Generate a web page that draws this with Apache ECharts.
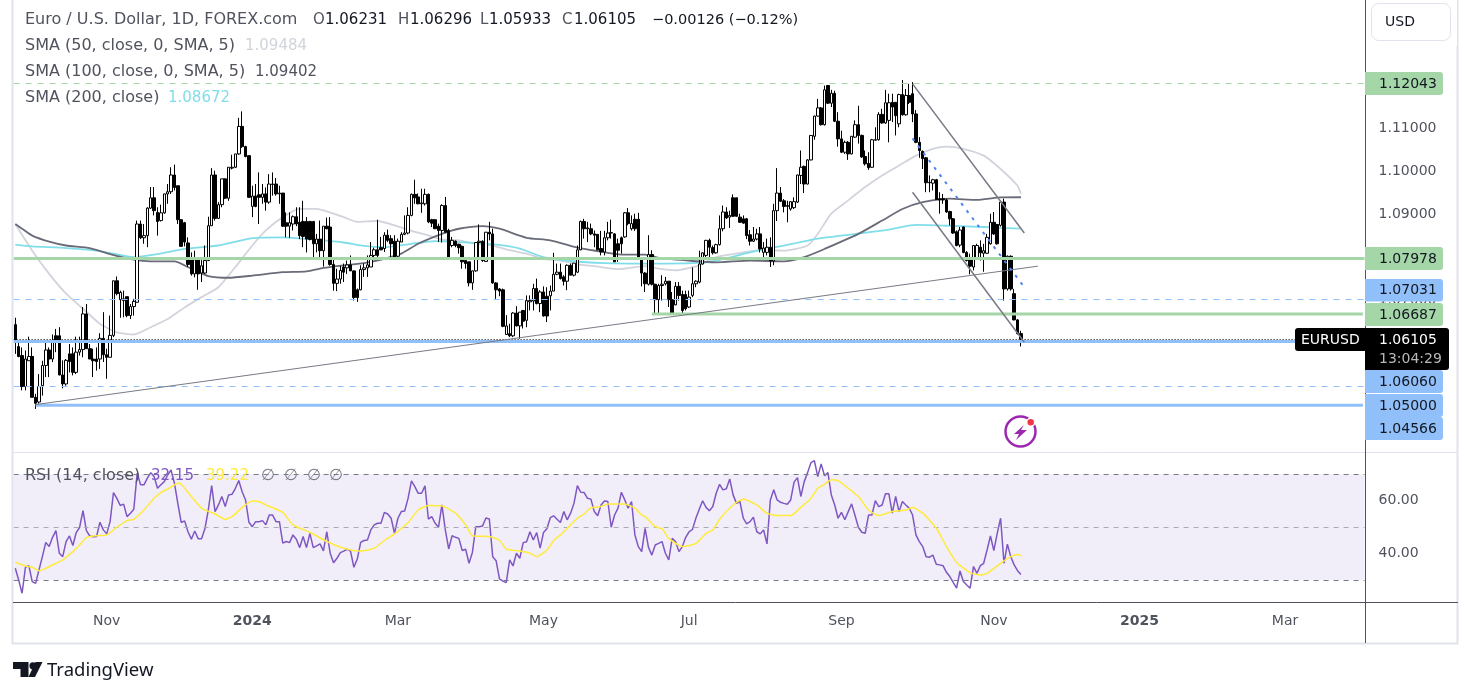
<!DOCTYPE html>
<html><head><meta charset="utf-8"><style>html,body{margin:0;padding:0;background:#fff}#c{width:1473px;height:697px}</style>
<script src="https://cdn.jsdelivr.net/npm/echarts@6/dist/echarts.min.js"></script></head><body><div id="c"></div>
<script>
const opens=[1.0644,1.0593,1.0572,1.0500,1.0560,1.0570,1.0475,1.0464,1.0502,1.0549,
1.0585,1.0564,1.0618,1.0618,1.0527,1.0506,1.0576,1.0576,1.0533,1.0580,
1.0586,1.0669,1.0588,1.0564,1.0564,1.0564,1.0612,1.0574,1.0568,1.0619,
1.0746,1.0702,1.0700,1.0709,1.0665,1.0686,1.0696,1.0878,1.0846,1.0851,
1.0915,1.0939,1.0905,1.0886,1.0904,1.0948,1.0953,1.0992,1.0967,1.0888,
1.0881,1.0834,1.0797,1.0762,1.0795,1.0764,1.0764,1.0793,1.0874,1.0992,
1.0891,1.0923,1.0983,1.0938,1.1008,1.1010,1.1041,1.1105,1.1058,1.1037,
1.0919,1.0943,1.0946,1.0940,1.0948,1.0929,1.0970,1.0971,1.0948,1.0950,
1.0881,1.0873,1.0878,1.0895,1.0882,1.0884,1.0884,1.0884,1.0884,1.0832,
1.0843,1.0816,1.0873,1.0871,1.0784,1.0740,1.0750,1.0778,1.0776,1.0783,
1.0769,1.0725,1.0725,1.0772,1.0776,1.0778,1.0805,1.0818,1.0823,1.0821,
1.0852,1.0844,1.0838,1.0803,1.0836,1.0854,1.0857,1.0898,1.0947,1.0941,
1.0925,1.0925,1.0947,1.0888,1.0888,1.0873,1.0863,1.0921,1.0863,1.0828,
1.0838,1.0831,1.0826,1.0793,1.0790,1.0741,1.0769,1.0835,1.0838,1.0791,
1.0859,1.0855,1.0741,1.0727,1.0725,1.0621,1.0623,1.0618,1.0671,1.0641,
1.0677,1.0654,1.0697,1.0699,1.0728,1.0693,1.0720,1.0710,1.0711,1.0722,
1.0761,1.0766,1.0755,1.0745,1.0782,1.0759,1.0766,1.0818,1.0884,1.0869,
1.0867,1.0855,1.0854,1.0821,1.0813,1.0846,1.0857,1.0855,1.0832,1.0846,
1.0848,1.0904,1.0867,1.0889,1.0889,1.0797,1.0764,1.0738,1.0807,1.0738,
1.0702,1.0735,1.0739,1.0745,1.0702,1.0690,1.0733,1.0714,1.0714,1.0685,
1.0712,1.0739,1.0743,1.0785,1.0805,1.0840,1.0823,1.0811,1.0830,1.0867,
1.0906,1.0894,1.0939,1.0939,1.0894,1.0890,1.0890,1.0853,1.0838,1.0843,
1.0855,1.0812,1.0812,1.0824,1.0792,1.0909,1.0950,1.0932,1.0919,1.0913,
1.0916,1.0929,1.0991,1.1012,1.0971,1.1027,1.1082,1.1129,1.1148,1.1109,
1.1200,1.1159,1.1182,1.1117,1.1076,1.1045,1.1068,1.1041,1.1080,1.1109,
1.1084,1.1035,1.1019,1.1010,1.1073,1.1074,1.1133,1.1113,1.1119,1.1161,
1.1161,1.1111,1.1179,1.1132,1.1177,1.1181,1.1134,1.1068,1.1047,1.1032,
1.0975,1.0973,1.0981,1.0937,1.0937,1.0934,1.0907,1.0890,1.0860,1.0829,
1.0871,1.0812,1.0795,1.0778,1.0797,1.0824,1.0810,1.0810,1.0832,1.0882,
1.0877,1.0875,1.0929,1.0727,1.0803,1.0716,1.0655,1.06231];
const highs=[1.0660,1.0607,1.0591,1.0584,1.0616,1.0591,1.0483,1.0529,1.0560,1.0607,
1.0591,1.0621,1.0634,1.0638,1.0561,1.0564,1.0599,1.0591,1.0616,1.0616,
1.0685,1.0692,1.0599,1.0588,1.0591,1.0624,1.0673,1.0588,1.0665,1.0746,
1.0756,1.0723,1.0723,1.0709,1.0692,1.0704,1.0886,1.0886,1.0878,1.0917,
1.0964,1.0964,1.0917,1.0923,1.0948,1.0971,1.1010,1.1016,1.0967,1.0889,
1.0883,1.0847,1.0812,1.0816,1.0795,1.0795,1.0828,1.0895,1.1008,1.1002,
1.0929,1.0983,1.0983,1.1010,1.1039,1.1041,1.1125,1.1140,1.1060,1.1037,
1.0967,1.0971,1.0998,1.0971,1.0963,1.0994,1.0998,1.0985,1.0967,1.0950,
1.0905,1.0905,1.0898,1.0917,1.0917,1.0932,1.0894,1.0884,1.0884,1.0855,
1.0886,1.0873,1.0893,1.0894,1.0797,1.0774,1.0781,1.0786,1.0793,1.0805,
1.0770,1.0728,1.0782,1.0786,1.0805,1.0836,1.0823,1.0888,1.0848,1.0859,
1.0865,1.0852,1.0852,1.0844,1.0859,1.0898,1.0917,1.0949,1.0981,1.0949,
1.0960,1.0960,1.0949,1.0890,1.0888,1.0879,1.0924,1.0941,1.0867,1.0848,
1.0840,1.0832,1.0828,1.0801,1.0790,1.0770,1.0836,1.0877,1.0840,1.0859,
1.0883,1.0867,1.0743,1.0729,1.0728,1.0666,1.0646,1.0673,1.0687,1.0673,
1.0677,1.0712,1.0712,1.0739,1.0751,1.0724,1.0733,1.0731,1.0735,1.0811,
1.0786,1.0786,1.0759,1.0784,1.0786,1.0787,1.0828,1.0886,1.0890,1.0883,
1.0879,1.0863,1.0854,1.0862,1.0862,1.0883,1.0888,1.0857,1.0844,1.0849,
1.0906,1.0915,1.0898,1.0902,1.0904,1.0797,1.0766,1.0852,1.0817,1.0739,
1.0739,1.0759,1.0755,1.0745,1.0720,1.0743,1.0743,1.0723,1.0723,1.0723,
1.0777,1.0747,1.0816,1.0812,1.0841,1.0844,1.0828,1.0832,1.0898,1.0921,
1.0917,1.0909,1.0947,1.0939,1.0902,1.0898,1.0892,1.0864,1.0871,1.0867,
1.0871,1.0836,1.0844,1.0847,1.0925,1.1008,1.0964,1.0936,1.0932,1.0931,
1.0940,1.0993,1.1049,1.1014,1.1029,1.1085,1.1130,1.1169,1.1150,1.1200,
1.1200,1.1190,1.1188,1.1138,1.1095,1.1072,1.1071,1.1082,1.1119,1.1153,
1.1086,1.1049,1.1045,1.1076,1.1103,1.1138,1.1146,1.1190,1.1181,1.1181,
1.1161,1.1181,1.1213,1.1192,1.1204,1.1208,1.1143,1.1080,1.1049,1.1034,
1.0991,1.0983,1.0983,1.0952,1.0948,1.0937,1.0909,1.0892,1.0863,1.0871,
1.0872,1.0815,1.0809,1.0828,1.0832,1.0840,1.0832,1.0855,1.0902,1.0906,
1.0877,1.0933,1.0937,1.0805,1.0805,1.0727,1.0657,1.06296];
const lows=[1.0576,1.0568,1.0491,1.0491,1.0560,1.0475,1.0448,1.0460,1.0479,1.0522,
1.0522,1.0557,1.0580,1.0526,1.0496,1.0502,1.0533,1.0526,1.0529,1.0572,
1.0568,1.0588,1.0564,1.0522,1.0537,1.0541,1.0557,1.0518,1.0568,1.0615,
1.0712,1.0660,1.0661,1.0661,1.0657,1.0665,1.0696,1.0843,1.0832,1.0824,
1.0913,1.0898,1.0851,1.0884,1.0902,1.0925,1.0948,1.0956,1.0878,1.0826,
1.0826,1.0778,1.0758,1.0754,1.0725,1.0743,1.0762,1.0793,1.0874,1.0886,
1.0890,1.0917,1.0936,1.0932,1.1005,1.1008,1.1039,1.1055,1.1033,1.0939,
1.0894,1.0917,1.0878,1.0925,1.0909,1.0925,1.0944,1.0944,1.0925,1.0871,
1.0847,1.0846,1.0863,1.0873,1.0843,1.0824,1.0812,1.0840,1.0801,1.0812,
1.0801,1.0779,1.0866,1.0781,1.0723,1.0722,1.0739,1.0743,1.0762,1.0769,
1.0700,1.0697,1.0724,1.0755,1.0755,1.0778,1.0801,1.0801,1.0817,1.0813,
1.0836,1.0801,1.0801,1.0801,1.0836,1.0852,1.0854,1.0896,1.0925,1.0924,
1.0904,1.0921,1.0880,1.0871,1.0867,1.0836,1.0835,1.0857,1.0800,1.0824,
1.0824,1.0809,1.0774,1.0774,1.0733,1.0725,1.0767,1.0797,1.0790,1.0790,
1.0840,1.0739,1.0704,1.0710,1.0638,1.0621,1.0615,1.0615,1.0640,1.0611,
1.0635,1.0638,1.0677,1.0677,1.0691,1.0673,1.0663,1.0650,1.0677,1.0722,
1.0759,1.0749,1.0735,1.0724,1.0759,1.0756,1.0764,1.0817,1.0844,1.0836,
1.0852,1.0824,1.0817,1.0805,1.0805,1.0840,1.0844,1.0790,1.0790,1.0809,
1.0846,1.0875,1.0863,1.0862,1.0797,1.0733,1.0720,1.0735,1.0735,1.0669,
1.0669,1.0700,1.0735,1.0685,1.0669,1.0689,1.0700,1.0671,1.0677,1.0683,
1.0708,1.0731,1.0740,1.0784,1.0801,1.0801,1.0807,1.0809,1.0828,1.0861,
1.0890,1.0869,1.0895,1.0895,1.0881,1.0879,1.0843,1.0828,1.0836,1.0840,
1.0812,1.0801,1.0805,1.0778,1.0782,1.0885,1.0929,1.0905,1.0882,1.0909,
1.0913,1.0927,1.0971,1.0950,1.0970,1.1026,1.1074,1.1128,1.1107,1.1107,
1.1157,1.1150,1.1115,1.1058,1.1043,1.1041,1.1027,1.1040,1.1078,1.1065,
1.1032,1.1014,1.1004,1.1009,1.1072,1.1072,1.1111,1.1111,1.1068,1.1115,
1.1084,1.1103,1.1130,1.1130,1.1157,1.1115,1.1066,1.1032,1.1006,1.0952,
1.0952,1.0956,1.0935,1.0902,1.0925,1.0904,1.0875,1.0855,1.0826,1.0824,
1.0810,1.0791,1.0761,1.0770,1.0795,1.0793,1.0767,1.0809,1.0830,1.0853,
1.0830,1.0872,1.0700,1.0723,1.0723,1.0654,1.0621,1.05933];
const closes=[1.0607,1.0570,1.0500,1.0564,1.0570,1.0475,1.0461,1.0500,1.0549,1.0585,
1.0564,1.0607,1.0607,1.0527,1.0506,1.0561,1.0558,1.0533,1.0580,1.0586,
1.0669,1.0588,1.0564,1.0560,1.0558,1.0612,1.0574,1.0568,1.0619,1.0746,
1.0716,1.0719,1.0704,1.0665,1.0686,1.0698,1.0878,1.0846,1.0851,1.0915,
1.0939,1.0909,1.0884,1.0904,1.0948,1.0953,1.0992,1.0963,1.0888,1.0826,
1.0836,1.0784,1.0762,1.0795,1.0762,1.0781,1.0793,1.0874,1.0992,1.0891,
1.0923,1.0983,1.0938,1.1010,1.1010,1.1041,1.1105,1.1058,1.1035,1.0940,
1.0943,1.0919,1.0940,1.0948,1.0929,1.0971,1.0971,1.0948,1.0950,1.0873,
1.0873,1.0881,1.0895,1.0878,1.0851,1.0849,1.0843,1.0842,1.0832,1.0843,
1.0816,1.0873,1.0867,1.0784,1.0740,1.0750,1.0770,1.0766,1.0783,1.0769,
1.0707,1.0707,1.0772,1.0776,1.0783,1.0805,1.0818,1.0805,1.0818,1.0852,
1.0840,1.0832,1.0801,1.0838,1.0854,1.0857,1.0898,1.0947,1.0939,1.0925,
1.0927,1.0947,1.0883,1.0880,1.0867,1.0863,1.0921,1.0859,1.0801,1.0840,
1.0828,1.0823,1.0790,1.0786,1.0741,1.0769,1.0835,1.0838,1.0793,1.0859,
1.0855,1.0741,1.0725,1.0722,1.0640,1.0641,1.0618,1.0671,1.0641,1.0673,
1.0652,1.0700,1.0700,1.0728,1.0693,1.0720,1.0664,1.0664,1.0722,1.0761,
1.0766,1.0751,1.0745,1.0782,1.0759,1.0787,1.0818,1.0884,1.0867,1.0867,
1.0855,1.0852,1.0818,1.0813,1.0846,1.0857,1.0858,1.0790,1.0817,1.0832,
1.0904,1.0879,1.0879,1.0867,1.0801,1.0764,1.0739,1.0807,1.0738,1.0702,
1.0735,1.0738,1.0745,1.0702,1.0669,1.0733,1.0712,1.0677,1.0681,1.0708,
1.0739,1.0745,1.0785,1.0811,1.0840,1.0824,1.0811,1.0830,1.0867,1.0906,
1.0892,1.0898,1.0896,1.0896,1.0882,1.0880,1.0851,1.0838,1.0843,1.0855,
1.0820,1.0822,1.0824,1.0792,1.0909,1.0950,1.0931,1.0919,1.0921,1.0930,
1.0930,1.0992,1.1010,1.0971,1.1027,1.1084,1.1129,1.1148,1.1109,1.1190,
1.1159,1.1182,1.1117,1.1076,1.1045,1.1068,1.1041,1.1082,1.1109,1.1084,
1.1034,1.1018,1.1009,1.1074,1.1074,1.1133,1.1113,1.1160,1.1160,1.1150,
1.1130,1.1179,1.1132,1.1177,1.1161,1.1134,1.1068,1.1049,1.1030,1.0974,
1.0974,1.0981,1.0935,1.0934,1.0934,1.0906,1.0890,1.0857,1.0828,1.0864,
1.0812,1.0793,1.0780,1.0828,1.0828,1.0811,1.0816,1.0847,1.0882,1.0855,
1.0832,1.0929,1.0727,1.0803,1.0727,1.0655,1.0623,1.06105];
const sma50=[[0,1.0878],[5,1.0816],[10,1.0762],[15,1.0716],[20,1.0681],[25,1.0646],[30,1.0626],[35,1.0621],[40,1.0638],[45,1.0657],[50,1.0684],[55,1.0708],[60,1.0731],[65,1.0778],[70,1.0828],[74,1.0863],[79,1.0894],[84,1.0913],[89,1.0913],[94,1.0902],[97,1.0894],[101,1.0883],[107,1.0885],[112,1.0875],[117,1.0862],[121,1.0854],[126,1.0842],[131,1.0840],[136,1.0832],[141,1.0828],[146,1.0817],[151,1.0809],[156,1.0797],[161,1.0793],[166,1.0784],[171,1.0780],[178,1.0773],[186,1.0780],[190,1.0774],[195,1.0770],[202,1.0782],[207,1.0801],[215,1.0812],[221,1.0818],[227,1.0816],[234,1.0828],[237,1.0855],[241,1.0902],[246,1.0933],[251,1.0964],[256,1.0991],[261,1.1014],[266,1.1037],[271,1.1053],[275,1.1058],[280,1.1053],[286,1.1037],[291,1.1006],[296,1.0967],[297,1.09484]];
const sma100=[[0,1.0878],[2,1.0867],[5,1.0851],[10,1.0837],[15,1.0828],[22,1.0822],[28,1.0808],[35,1.0795],[40,1.0791],[47,1.0791],[52,1.0774],[57,1.0757],[63,1.0753],[70,1.0758],[79,1.0766],[86,1.0768],[91,1.0776],[97,1.0782],[103,1.0787],[109,1.0797],[114,1.0809],[119,1.0832],[126,1.0855],[131,1.0867],[138,1.0873],[143,1.0867],[151,1.0846],[158,1.0840],[166,1.0823],[172,1.0815],[179,1.0807],[186,1.0807],[190,1.0799],[200,1.0792],[207,1.0789],[217,1.0793],[227,1.0791],[233,1.0801],[239,1.0820],[249,1.0855],[256,1.0886],[262,1.0913],[268,1.0929],[276,1.0937],[284,1.0934],[291,1.0940],[297,1.09402]];
const sma200=[[0,1.0830],[5,1.0826],[15,1.0822],[25,1.0815],[35,1.0801],[42,1.0808],[50,1.0820],[60,1.0828],[70,1.0845],[79,1.0847],[89,1.0841],[97,1.0835],[103,1.0827],[109,1.0824],[117,1.0832],[124,1.0838],[131,1.0836],[141,1.0831],[149,1.0821],[156,1.0801],[164,1.0792],[174,1.0787],[186,1.0786],[200,1.0787],[207,1.0793],[217,1.0812],[227,1.0828],[237,1.0844],[247,1.0854],[257,1.0864],[266,1.0876],[276,1.0874],[286,1.0871],[297,1.08672]];
const rsi=[34.5,30.1,25.1,34.9,35.5,29.5,28.8,33.9,38.9,44.3,42.7,46.2,48.7,40.2,38.9,44.6,46.7,43.1,48,50,
56.3,48.7,46.7,46.4,46.5,51.9,49,47.5,52.1,63.1,60.9,58.2,58.7,54,55.3,56.8,70.4,66,66,68.5,
70.6,69.1,64.7,66,67.2,69.7,71.6,66.6,59,51.8,52.4,48.3,45.5,48.6,45.7,45.7,49.4,56.5,65.7,55.9,
58.4,61.6,57.8,62.2,62.4,64.7,67.6,63.4,60.3,51.9,50.2,52.1,52.1,52.5,50.9,54.6,54.6,52.1,52.1,44,
44.6,44.2,47.1,45.5,42.3,46.5,42.3,47.7,42.3,43,43.7,41.1,48.3,40.2,36.6,38.3,40.4,41,41.7,41,
34.9,38,44.3,45,45.2,49,50.9,51.5,51.5,55.6,55,53.4,47.7,53.4,55.9,56.1,60.9,67.5,65.3,62.8,
62.8,65.6,53.1,54,51.5,50,58.4,49,41.8,46.8,46.2,45.8,41.2,41.7,36.4,40.5,50.2,50.2,50.5,53.5,
53.1,38.9,37.4,30.5,29.7,29.1,37.7,35.4,40.2,38.3,44.2,44.5,48.3,45.2,48,42.1,48,49.4,53.6,54.3,
53,51.8,55.9,52.8,55.3,59,65.7,63.2,63.1,60.9,60.6,55.9,54.3,58.4,59.9,59.7,50,54.6,57.2,63.2,
60.3,57.2,59.7,47.1,42.7,40.8,49.6,42.4,39.5,43.3,43.9,44.6,40.2,37.7,45.8,44.6,40.8,42.7,46.2,48.3,
49.2,53.4,56.8,60,57.5,56.2,57.8,62.8,66.2,64.1,64.5,68.2,62.2,59,59.7,53.4,51.3,52.1,53.8,48.3,
47.5,49,43.7,60.3,64.1,60.3,59.4,59,58.7,60.3,67,68.7,61.6,67.2,70.6,74.4,75.1,69.1,73.9,69.4,
70.6,62.2,58.4,53.4,55.6,52.8,55.9,58.8,54.4,50,48.1,47.7,54.6,54.6,60,57.8,58.4,62.6,62.6,55.3,
61.6,55.9,59.7,58.4,57.2,54.6,47.1,44.6,42.7,38.9,38.7,39.5,36,35.8,35.5,33,31.4,29.2,27,33.5,
29.5,28.2,27,35.2,32.6,35.5,36.4,41.4,46.7,41.2,47.7,53.4,36.4,43.6,38.9,35.8,33.6,32.15];
const rsiMa=[[0,36.8],[3,35.4],[5,34.9],[7,33.6],[9,34.5],[12,36.4],[14,37.7],[17,40.8],[19,43.3],[21,46.1],[24,46.8],[27,47.1],[30,50],[33,52.5],[35,53],[38,56.5],[41,60.9],[43,63.1],[46,65.1],[48,66.6],[49,66.2],[52,61.6],[55,57.2],[59,55],[62,53],[64,54],[67,57.5],[70,59.9],[72,59.7],[74,58.4],[79,55.6],[82,50.9],[87,48.1],[92,44.6],[97,42.1],[102,41],[106,42.1],[109,45],[112,47.5],[116,51.8],[119,56.5],[122,58.2],[126,58],[130,55.3],[133,50.9],[135,46.8],[140,46.5],[143,45],[145,41.8],[149,41],[152,40.2],[154,38.9],[157,41.4],[159,45],[161,47.1],[163,49.6],[166,53.4],[168,55],[170,57.4],[173,57.8],[175,58.8],[180,58.8],[183,57.2],[185,54.6],[186,54],[189,50.2],[191,49.4],[193,45.8],[197,42.7],[201,43.9],[204,47.7],[206,49],[208,53],[212,58.4],[215,60.6],[219,58.4],[222,55.3],[225,54.4],[229,54.4],[232,57.5],[235,60.9],[237,64.7],[239,66.2],[241,67.9],[243,67.6],[246,64.7],[249,61.6],[252,56.5],[255,54.4],[259,55.9],[263,56.5],[265,57.4],[268,55.3],[272,49.6],[275,42.7],[278,36.7],[282,32.9],[285,32],[287,32.6],[291,36.4],[294,38.9],[296,39.7],[297,39.22]];
const tickBars=[27,70,113,156,199,244,289,332,375];
const tickLabels=['Nov','2024','Mar','May','Jul','Sep','Nov','2025','Mar'];
const priceTicks=[1.04,1.05,1.06,1.07,1.08,1.09,1.10,1.11,1.12,1.13];
const rsiTicks=[40,60];
const FONT='"DejaVu Sans",sans-serif';
const SLOTS=399, GREEN='#a5d6a7', BLUE='#90bff9', GRAY='#787b86';
const categories=Array.from({length:SLOTS},(_,i)=>String(i));
const candles=opens.map((o,i)=>[o,closes[i],lows[i],highs[i]]);
const ln=(data,color,width,type,z,xi=0,smooth=false)=>({type:'line',data,smooth,xAxisIndex:xi,yAxisIndex:xi,showSymbol:false,symbol:'none',silent:true,animation:false,z:z||5,lineStyle:{color,width,type:type||'solid'}});
const hl=(v,color,width,type,xi=0)=>({type:'line',data:[],xAxisIndex:xi,yAxisIndex:xi,silent:true,animation:false,z:6,markLine:{silent:true,precision:5,symbol:'none',animation:false,label:{show:false},emphasis:{disabled:true},lineStyle:{color,width,type},data:[{yAxis:v}]}});
const series=[
 ln(sma50,'#d1d4dc',1.8,null,2,0,0.2),ln(sma200,'#80deea',1.8,null,2,0,0.2),ln(sma100,'#696c78',1.8,null,2,0,0.2),
 {type:'candlestick',data:candles,barWidth:3,animation:false,silent:true,z:3,itemStyle:{color:'#fff',color0:'#000',borderColor:'#000',borderColor0:'#000',borderWidth:1}},
 hl(1.12043,GREEN,1,[6,6]),hl(1.07978,GREEN,3,'solid'),hl(1.07031,BLUE,1,[6,6]),hl(1.05,BLUE,1,[6,6]),
 ln([[188,1.06687],[398,1.06687]],GREEN,3,null,6),
 hl(1.0606,BLUE,3,'solid'),ln([[6,1.04566],[398,1.04566]],BLUE,3,null,6),
 hl(1.06105,'#000',1,[1,2]),
 ln([[6,1.0458],[302,1.0780]],GRAY,1,null,7),
 ln([[265,1.1204],[298,1.0857]],GRAY,1.5,null,7),
 ln([[265,1.0952],[298,1.0603]],GRAY,1.5,null,7),
 ln([[265,1.1077],[298,1.0731]],'#4f83f1',2,[3,6],7),
 {type:'line',data:[],xAxisIndex:1,yAxisIndex:1,silent:true,animation:false,z:1,markArea:{silent:true,itemStyle:{color:'rgba(126,87,194,0.1)'},data:[[{yAxis:70},{yAxis:30}]]}},
 hl(70,'#787b86',1,[5,5],1),hl(50,'#a9abb3',1,[5,5],1),hl(30,'#787b86',1,[5,5],1),
 ln(rsi.map((v,i)=>[i,v]),'#7e57c2',1.5,null,4,1),ln(rsiMa,'#ffeb3b',1.5,null,5,1,0.2)
];
const T=(x,y,text,fill,size,extra)=>({type:'text',z:100,x,y,silent:true,style:Object.assign({text,fill,font:`${size||14}px ${FONT}`,verticalAlign:'middle'},extra||{})});
const R=(x,y,w,h,fill,r)=>({type:'rect',z:99,silent:true,shape:{x,y,width:w,height:h,r:r||0},style:{fill}});
const L=(x1,y1,x2,y2,stroke,w)=>({type:'line',z:98,silent:true,shape:{x1,y1,x2,y2},style:{stroke,lineWidth:w||1}});
const tag=(y,h,bg,txt)=>[R(1365,y,78,h,bg,[0,3,3,0]),T(1379,y+h/2+.5,txt,'#131722',14)];
const gfx=[
 L(12.5,0,12.5,644,'#e0e3eb',2),L(1457.5,0,1457.5,644,'#e0e3eb',2),L(12,643.5,1458,643.5,'#e0e3eb',2),
 L(13,452.5,1458,452.5,'#e0e3eb',1),L(13,602.5,1458,602.5,'#50535e',1),L(1365.5,0,1365.5,643,'#50535e',1),
 R(1366,0,91,46,'#fff'),
 {type:'rect',z:100,silent:true,shape:{x:1371.5,y:3.5,width:79,height:37,r:7},style:{fill:'#fff',stroke:'#e0e3eb',lineWidth:1}},
 T(1385,22,'USD','#131722',14),
 ...tag(72,23,GREEN,'1.12043'),...tag(247,23,GREEN,'1.07978'),...tag(279,22.5,BLUE,'1.07031'),...tag(303,23,GREEN,'1.06687'),
 ...tag(370,23,BLUE,'1.06060'),...tag(394,23,BLUE,'1.05000'),...tag(417,23,BLUE,'1.04566'),
 R(1295,328,70,23,'#000',[3,0,0,3]),T(1301,340,'EURUSD','#fff',14),
 R(1365,328,84,42,'#000',[0,3,3,0]),T(1379,340,'1.06105','#fff',14),T(1379,359,'13:04:29','#b8b8b8',14),
 T(25,20,'Euro / U.S. Dollar, 1D, FOREX.com','#50535e',16),
 T(313,20,'O','#50535e',15),T(325,20,'1.06231','#131722',15),
 T(398,20,'H','#50535e',15),T(410,20,'1.06296','#131722',15),
 T(480,20,'L','#50535e',15),T(489,20,'1.05933','#131722',15),
 T(562,20,'C','#50535e',15),T(574,20,'1.06105','#131722',15),
 T(652,20,'−0.00126 (−0.12%)','#131722',14.5),
 T(25,46,'SMA (50, close, 0, SMA, 5)','#50535e',16),T(245,46,'1.09484','#d1d4dc',15),
 T(25,72,'SMA (100, close, 0, SMA, 5)','#50535e',16),T(255,72,'1.09402','#50535e',15),
 T(25,98,'SMA (200, close)','#50535e',16),T(168,98,'1.08672','#80deea',15),
 T(25,476,'RSI (14, close)','#50535e',16),T(151,476,'32.15','#7e57c2',15),T(206,476,'39.22','#ffeb3b',15),
 T(261,476,'∅','#787b86',16),T(284,476,'∅','#787b86',16),T(307,476,'∅','#787b86',16),T(329,476,'∅','#787b86',16),
 {type:'circle',z:100,silent:true,shape:{cx:1020.5,cy:431.5,r:15},style:{fill:'#fff',stroke:'#9c27b0',lineWidth:2.5}},
 {type:'polygon',z:101,silent:true,shape:{points:[[1024,425],[1014,434],[1019,434],[1016,440],[1027,430],[1021,430]]},style:{fill:'#9c27b0'}},
 {type:'circle',z:102,silent:true,shape:{cx:1030.7,cy:422.3,r:4},style:{fill:'#f23645',stroke:'#fff',lineWidth:1.5}},
 {type:'polygon',z:100,silent:true,shape:{points:[[13,662],[28.5,662],[28.5,677],[20.5,677],[20.5,669],[13,669]]},style:{fill:'#131722'}},
 {type:'circle',z:100,silent:true,shape:{cx:33,cy:665.8,r:3.6},style:{fill:'#131722'}},
 {type:'polygon',z:100,silent:true,shape:{points:[[35.5,662],[42.5,662],[35,677],[28.5,677]]},style:{fill:'#131722'}},
 T(47,671,'TradingView','#131722',18.5,{font:'18.5px "Noto Sans",sans-serif'})
];
const chart=echarts.init(document.getElementById('c'),null,{renderer:'canvas'});
chart.setOption({animation:false,backgroundColor:'#fff',
 grid:[{left:13.6,width:1351,top:0.55,height:452},{left:13.6,width:1351,top:453,height:149}],
 xAxis:[{type:'category',gridIndex:0,data:categories,show:false},
  {type:'category',gridIndex:1,data:categories,axisLine:{show:false},axisTick:{show:false},splitLine:{show:false},
   axisLabel:{interval:(i)=>tickBars.includes(i),margin:12,formatter:(v,i)=>{const k=tickBars.indexOf(i);const s=tickLabels[k];return /^\d/.test(s)?'{y|'+s+'}':s;},color:'#50535e',fontFamily:'"DejaVu Sans"',fontSize:14,rich:{y:{fontWeight:'bold',color:'#50535e',fontFamily:'"DejaVu Sans"',fontSize:14}}}}],
 yAxis:[{type:'value',gridIndex:0,position:'right',min:1.03465,max:1.13977,axisLine:{show:false},axisTick:{show:false},splitLine:{show:false},
   axisLabel:{customValues:priceTicks,margin:14,align:'left',color:'#50535e',fontFamily:'"DejaVu Sans"',fontSize:14,formatter:v=>v.toFixed(5)}},
  {type:'value',gridIndex:1,position:'right',min:21.8,max:78,axisLine:{show:false},axisTick:{show:false},splitLine:{show:false},
   axisLabel:{customValues:rsiTicks,margin:14,align:'left',padding:[2,0,0,0],color:'#50535e',fontFamily:'"DejaVu Sans"',fontSize:14,formatter:v=>v.toFixed(2)}}],
 series,graphic:gfx});
</script></body></html>
